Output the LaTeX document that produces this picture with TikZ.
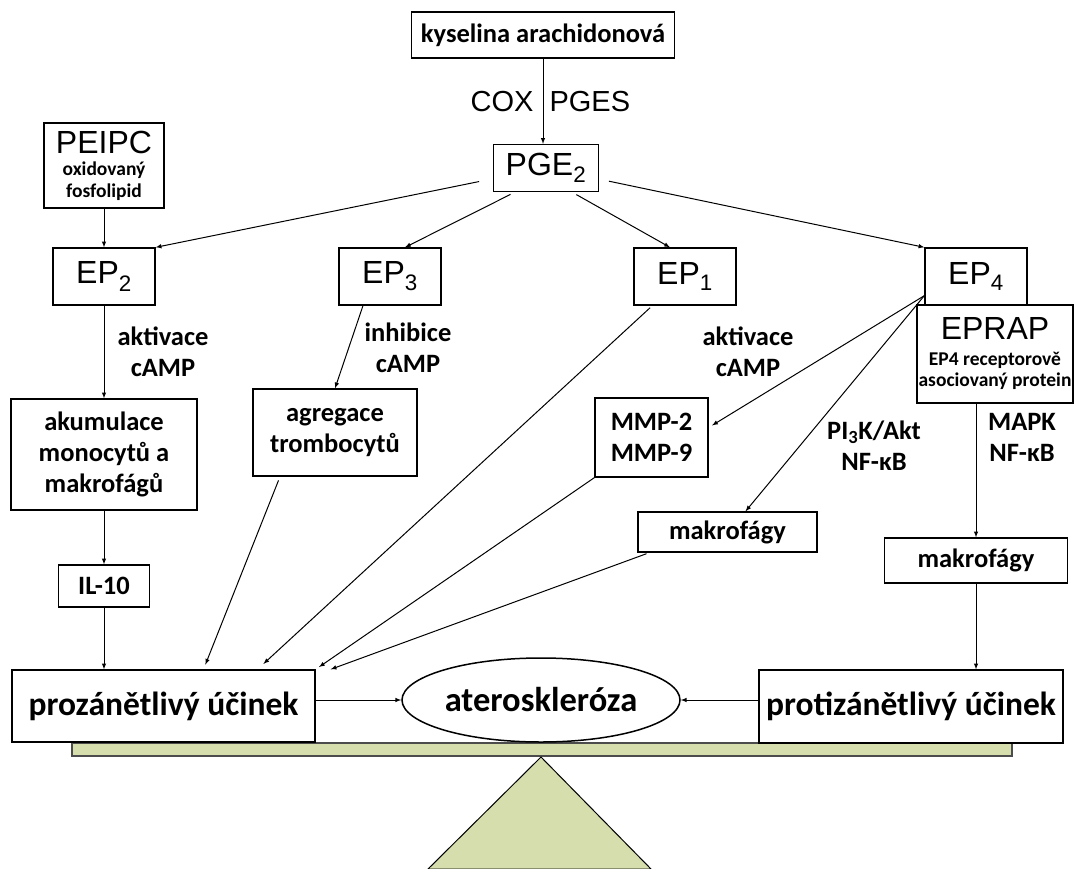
\documentclass[tikz,border=0pt]{standalone}
\usepackage{fontspec}
\setmainfont{Carlito}
\newfontfamily\arial{Liberation Sans}
\usepackage{tikz}
\usetikzlibrary{arrows}
\usetikzlibrary{shapes.geometric}
\definecolor{beamgreen}{RGB}{213,222,172}
\newcommand{\epfont}{\arial\mdseries\fontsize{32}{36}\selectfont}
\newcommand{\coxfont}{\arial\mdseries\fontsize{29}{33}\selectfont}
\newcommand{\smallbold}{\bfseries\fontsize{19.5}{21.5}\selectfont}
\newcommand{\bigbold}{\bfseries\fontsize{33.5}{38}\selectfont}
\tikzstyle{every node}=[font=\bfseries\fontsize{26.5}{31}\selectfont]
\tikzstyle{box}=[draw, line width=1.3pt, fill=white, align=center, inner sep=0pt]
\tikzstyle{ep}=[box, minimum width=102pt, minimum height=57pt, font=\epfont]
\tikzstyle{lbl}=[align=center, inner sep=0pt]

\begin{document}
\begin{tikzpicture}[>=latex, x=1pt, y=-1pt, line width=1pt]
        \useasboundingbox (0,0) rectangle (1075,869);
        % vahadlo
        \draw [fill=beamgreen, line width=1.2pt, draw=black!70] (72,743) rectangle (1012,756);
        \draw [fill=beamgreen] (541,757) -- (428,869) -- (651,869) -- cycle;
        % bloky
        \node [box, minimum width=263pt, minimum height=46pt] (KA) at (543,35) {kyselina arachidonová};
        \node [box, minimum width=105pt, minimum height=47pt, font=\epfont] (PGE) at (546,168) {PGE\textsubscript{2}};
        \node [box, minimum width=120pt, minimum height=85pt, font=\smallbold] (PEIPC) at (104,165.5) {{\epfont PEIPC}\\[1pt]oxidovaný\\fosfolipid};
        \node [ep] (EP2) at (104,276.5) {EP\textsubscript{2}};
        \node [ep] (EP3) at (390,276.5) {EP\textsubscript{3}};
        \node [ep] (EP1) at (685,276.5) {EP\textsubscript{1}};
        \node [ep] (EP4) at (976,276.5) {EP\textsubscript{4}};
        \node [box, minimum width=156pt, minimum height=98pt, font=\smallbold] (EPRAP) at (995,354) {{\epfont EPRAP}\\[4pt]EP4 receptorově\\asociovaný protein};
        \node [box, minimum width=186pt, minimum height=111pt] (AKU) at (104,454.5) {akumulace\\monocytů a\\makrofágů};
        \node [box, minimum width=91pt, minimum height=42pt] (IL) at (104,586) {IL-10};
        \node [box, minimum width=164pt, minimum height=87pt] (AGR) at (335,432.5) {agregace\\trombocytů};
        \node [box, minimum width=113pt, minimum height=79pt] (MMP) at (651.5,437.5) {MMP-2\\MMP-9};
        \node [box, minimum width=179pt, minimum height=40pt] (MAK1) at (727.5,532) {makrofágy};
        \node [box, minimum width=183pt, minimum height=45pt] (MAK2) at (976,560.5) {makrofágy};
        \node [box, minimum width=303pt, minimum height=72pt, font=\bigbold] (PRO) at (163.5,706) {prozánětlivý účinek};
        \node [box, ellipse, line width=1.5pt, minimum width=278pt, minimum height=84pt, font=\bfseries\fontsize{34.5}{38}\selectfont] (ATE) at (541,700) {ateroskleróza};
        \node [box, minimum width=304pt, minimum height=73pt, font=\bigbold] (PROTI) at (911,706.5) {protizánětlivý účinek};
        % popisky
        \node [lbl] (A2) at (163,352) {aktivace\\cAMP};
        \node [lbl] (I3) at (408,348) {inhibice\\cAMP};
        \node [lbl] (A1) at (748,352) {aktivace\\cAMP};
        \node [lbl] (PI) at (874,446) {PI\textsubscript{3}K/Akt\\NF-κB};
        \node [lbl] (MAPK) at (1022,437) {MAPK\\NF-κB};
        % sipky
        \draw [->] (KA.south) -- (KA.south |- PGE.north)
            node [midway, left, font=\coxfont, inner sep=9pt] {COX}
            node [midway, right, font=\coxfont, inner sep=6pt] {PGES};
        \draw [->, shorten <=14pt] (PGE) -- (EP2.north east);
        \draw [->, shorten <=5pt] ([xshift=-31pt]PGE.south) -- ([xshift=15pt]EP3.north);
        \draw [->, shorten <=5pt] ([xshift=26pt]PGE.south) -- ([xshift=-15pt]EP1.north);
        \draw [->, shorten <=10pt] (PGE) -- (EP4.north west);
        \draw [->] (PEIPC) -- (EP2);
        \draw [->] (EP2) -- (AKU);
        \draw [->] (AKU) -- (IL);
        \draw [->] (IL.south) -- (IL.south |- PRO.north);
        \draw [->] ([xshift=-27pt]EP3.south) -- (AGR.north);
        \draw [->, shorten >=4pt] ([yshift=10pt]EP4.south west) -- ([yshift=10pt]MMP.east);
        \draw [->] ([yshift=10pt]EP4.south west) -- ([xshift=18pt]MAK1.north);
        \draw [->] (MAK2.north |- EPRAP.south) -- (MAK2.north);
        \draw [->] (MAK2.south) -- (MAK2.south |- PROTI.north);
        \draw [->, shorten <=4pt, shorten >=5pt] ([xshift=-55pt]AGR.south) -- ([xshift=40pt]PRO.north);
        \draw [->, shorten <=3pt, shorten >=8pt] ([xshift=19pt]EP1.south west) -- ([xshift=94pt]PRO.north);
        \draw [->, shorten >=4pt] (MMP.south west) -- (PRO.north east);
        \draw [->, shorten <=3pt] ([xshift=12pt]MAK1.south west) -- ([xshift=15pt]PRO.north east);
        \draw [->] (ATE.west -| PRO.east) -- (ATE.west);
        \draw [->] (ATE.east -| PROTI.west) -- (ATE.east);
    \end{tikzpicture}
\end{document}
